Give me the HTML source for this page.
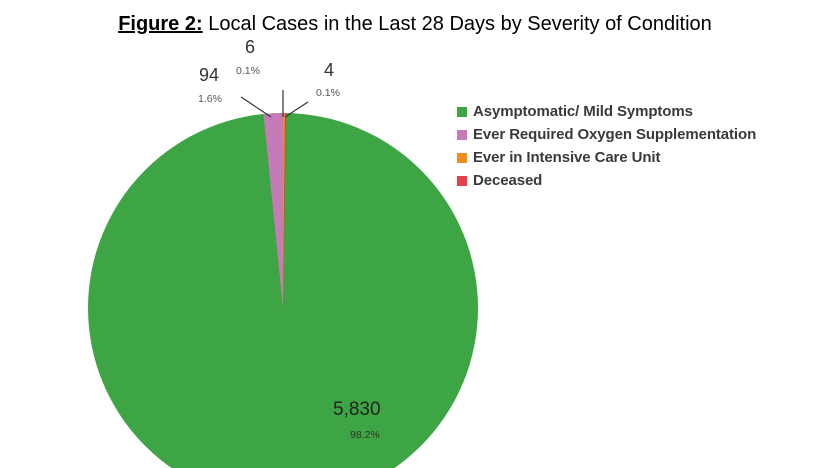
<!DOCTYPE html>
<html style="overflow:hidden"><head><style>
html,body{margin:0;width:830px;height:468px;overflow:hidden}
body{background:#fff;position:relative;font-family:"Liberation Sans",sans-serif}
.t{position:absolute;white-space:nowrap}
.lg{position:absolute;left:457px;font-size:15px;color:#3a3a3a;font-weight:bold;letter-spacing:-0.1px}
.lg span{display:inline-block;width:10px;height:10px;margin-right:6px;vertical-align:-1px}
</style></head><body>
<div class="t" style="left:0;width:830px;top:13px;text-align:center;font-size:20px;color:#000"><b><u>Figure 2:</u></b> Local Cases in the Last 28 Days by Severity of Condition</div>
<svg width="830" height="468" viewBox="0 0 830 468" style="position:absolute;left:0;top:0;display:block;overflow:hidden">
<circle cx="283" cy="308" r="195" fill="#3da543"/>
<path d="M283,308 L263.4,114 A195,195 0 0 1 283,113 Z" fill="#c57bb8"/>
<path d="M283,308 L283,113 A195,195 0 0 1 285,113 Z" fill="#f28c1d"/>
<path d="M283,308 L285,113 A195,195 0 0 1 286.2,113 Z" fill="#e8404a"/>
<g stroke="#333" stroke-width="1.2">
<line x1="241" y1="97" x2="271" y2="117"/>
<line x1="283" y1="90" x2="283" y2="117"/>
<line x1="308" y1="102" x2="285" y2="117"/>
</g>
</svg>
<div class="t" style="left:245px;top:37px;font-size:18px;color:#333">6</div>
<div class="t" style="left:236px;top:65px;font-size:10.5px;color:#555">0.1%</div>
<div class="t" style="left:199px;top:65px;font-size:18px;color:#333">94</div>
<div class="t" style="left:198px;top:93px;font-size:10.5px;color:#555">1.6%</div>
<div class="t" style="left:324px;top:60px;font-size:18px;color:#333">4</div>
<div class="t" style="left:316px;top:87px;font-size:10.5px;color:#555">0.1%</div>
<div class="t" style="left:333px;top:399px;font-size:19px;color:#222">5,830</div>
<div class="t" style="left:350px;top:429px;font-size:10.5px;color:#333">98.2%</div>
<div class="lg" style="top:103px"><span style="background:#3da543"></span>Asymptomatic/ Mild Symptoms</div>
<div class="lg" style="top:126px"><span style="background:#c57bb8"></span>Ever Required Oxygen Supplementation</div>
<div class="lg" style="top:149px"><span style="background:#f28c1d"></span>Ever in Intensive Care Unit</div>
<div class="lg" style="top:172px"><span style="background:#e8404a"></span>Deceased</div>
</body></html>
